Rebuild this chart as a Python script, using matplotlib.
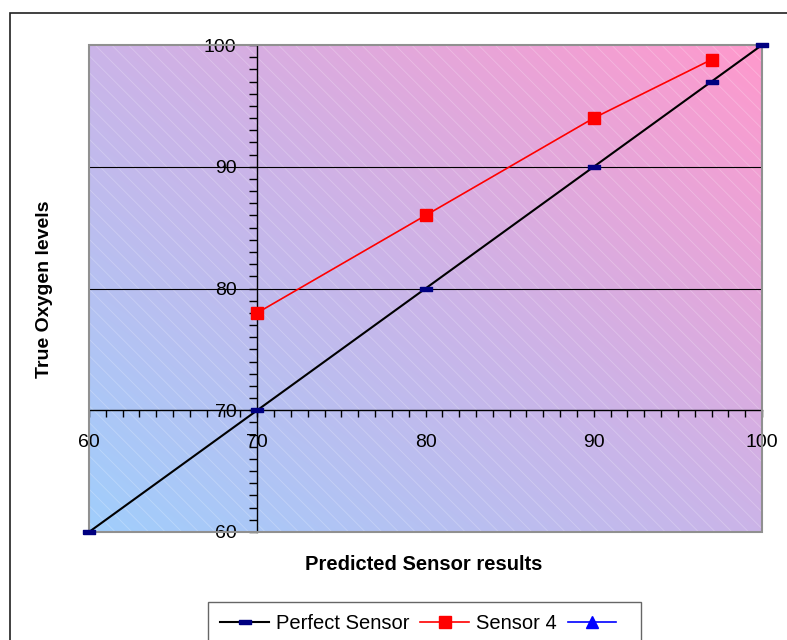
import numpy as np
import matplotlib
matplotlib.use('Agg')
import matplotlib.pyplot as plt
from matplotlib.patches import Rectangle

plt.rcParams['font.family'] = ['Liberation Sans', 'DejaVu Sans']
plt.rcParams['hatch.linewidth'] = 0.6

# данные
perfect_x = [60, 70, 80, 90, 97, 100]
perfect_y = [60, 70, 80, 90, 97, 100]
sensor4_x = [70, 80, 90, 97]
sensor4_y = [78, 86, 94, 98.8]
x_ticks = [60, 70, 80, 90, 100]
y_ticks = [60, 70, 80, 90, 100]
grid_y = [80, 90]

fig = plt.figure(figsize=(7.87, 6.4), dpi=100)
ax = fig.add_axes([89 / 787, 1 - 532 / 640, 673 / 787, 487 / 640])
ax.set_xlim(60, 100)
ax.set_ylim(60, 100)

# фон: диагональный градиент голубой -> сиреневый -> розовый
n = 300
u, v = np.meshgrid(np.linspace(0, 1, n), np.linspace(0, 1, n))
t = (u + v) / 2
c0 = np.array([160, 206, 252]) / 255
c1 = np.array([203, 180, 232]) / 255
c2 = np.array([255, 153, 204]) / 255
img = np.where((t < 0.5)[..., None],
               c0 + (c1 - c0) * (t / 0.5)[..., None],
               c1 + (c2 - c1) * ((t - 0.5) / 0.5)[..., None])
ax.imshow(img, origin='lower', extent=[60, 100, 60, 100], aspect='auto', zorder=0)
ax.add_patch(Rectangle((0, 0), 1, 1, transform=ax.transAxes, facecolor='none',
                       edgecolor=(1, 1, 1, 0.25), hatch='\\\\', linewidth=0, zorder=0.5))

# сетка
for g in grid_y:
    ax.axhline(g, color='black', linewidth=0.8, zorder=1)

# рамка области построения
ax.add_patch(Rectangle((0, 0), 1, 1, transform=ax.transAxes, fill=False,
                       edgecolor='#909090', linewidth=1.5, zorder=5, clip_on=False))

# оси пересекаются в точке (70, 70)
ax.spines['top'].set_visible(False)
ax.spines['right'].set_visible(False)
ax.spines['left'].set_position(('data', 70))
ax.spines['bottom'].set_position(('data', 70))
ax.spines['left'].set_linewidth(1)
ax.spines['bottom'].set_linewidth(1)
ax.spines['left'].set_zorder(4)
ax.spines['bottom'].set_zorder(4)

ax.set_xticks(x_ticks)
ax.set_yticks(y_ticks)
ax.set_xticks(np.arange(60, 101, 1), minor=True)
ax.set_yticks(np.arange(60, 101, 1), minor=True)
ax.tick_params(axis='x', which='both', direction='out', length=5, width=1)
ax.tick_params(axis='y', which='both', direction='out', length=6, width=1)
ax.tick_params(axis='x', which='major', labelsize=14, pad=12)
ax.tick_params(axis='y', which='major', labelsize=14, pad=9)

# маркер-черточка
dash = [(-1, -0.3), (1, -0.3), (1, 0.3), (-1, 0.3), (-1, -0.3)]

ax.plot(perfect_x, perfect_y, color='black', linewidth=1.5, marker=dash,
        markersize=9, markerfacecolor='#000080', markeredgecolor='#000080',
        label='Perfect Sensor', zorder=6, clip_on=False)
ax.plot(sensor4_x, sensor4_y, color='red', linewidth=1.2, marker='s',
        markersize=8.5, markerfacecolor='red', markeredgecolor='red',
        label='Sensor 4', zorder=6, clip_on=False)
ax.plot([], [], color='blue', linewidth=1.2, marker='^', markersize=9,
        label=' ')

fig.text(45 / 787, 1 - 289 / 640, 'True Oxygen levels', rotation=90,
         ha='center', va='center', fontsize=14, fontweight='bold')
fig.text(424 / 787, 1 - 565 / 640, 'Predicted Sensor results',
         ha='center', va='center', fontsize=14.5, fontweight='bold')

leg = fig.legend(loc='upper center', bbox_to_anchor=(424.5 / 787, 1 - 602 / 640),
                 ncol=3, fontsize=14.5, frameon=True, fancybox=False,
                 handlelength=2.4, columnspacing=0.55, handletextpad=0.35,
                 borderpad=0.6, borderaxespad=0)
leg.get_frame().set_edgecolor('#404040')
leg.get_frame().set_linewidth(1)

# внешняя рамка диаграммы
fig.patches.append(Rectangle((10 / 787, -0.05), 1.1, 1 - 13 / 640 + 0.05,
                             transform=fig.transFigure, fill=False,
                             edgecolor='#202020', linewidth=1.2))

fig.savefig('out.png', dpi=100)
